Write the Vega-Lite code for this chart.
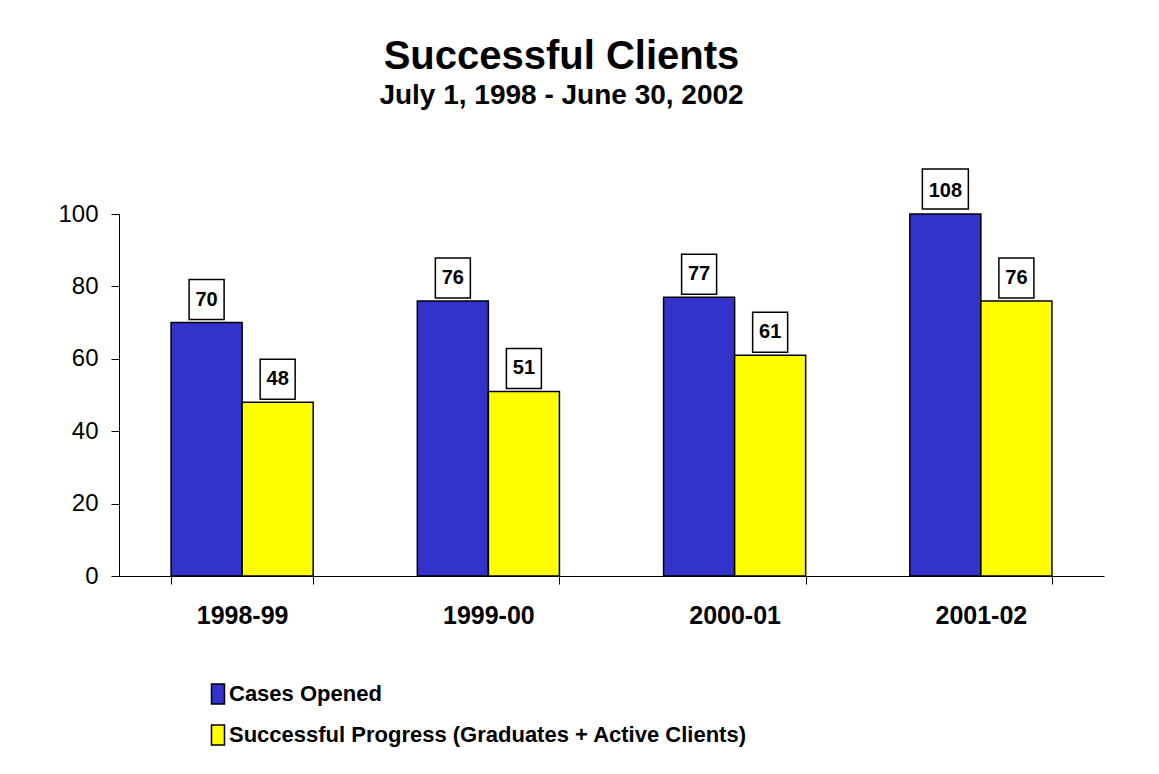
{
  "$schema": "https://vega.github.io/schema/vega-lite/v6.json",
  "width": 985,
  "height": 362,
  "autosize": {"type": "none"},
  "padding": {"left": 119, "top": 214, "right": 55, "bottom": 198},
  "background": "white",
  "title": {
    "text": "Successful Clients",
    "subtitle": "July 1, 1998 - June 30, 2002",
    "font": "Liberation Sans",
    "fontSize": 40,
    "fontWeight": "bold",
    "color": "black",
    "subtitleFont": "Liberation Sans",
    "subtitleFontSize": 28,
    "subtitleFontWeight": "bold",
    "subtitleColor": "black",
    "subtitlePadding": 5,
    "anchor": "middle",
    "frame": "group",
    "dx": -50,
    "offset": 56
  },
  "data": {
    "values": [
      {"year": "1998-99", "series": "Cases Opened", "value": 70},
      {"year": "1998-99", "series": "Successful Progress (Graduates + Active Clients)", "value": 48},
      {"year": "1999-00", "series": "Cases Opened", "value": 76},
      {"year": "1999-00", "series": "Successful Progress (Graduates + Active Clients)", "value": 51},
      {"year": "2000-01", "series": "Cases Opened", "value": 77},
      {"year": "2000-01", "series": "Successful Progress (Graduates + Active Clients)", "value": 61},
      {"year": "2001-02", "series": "Cases Opened", "value": 108},
      {"year": "2001-02", "series": "Successful Progress (Graduates + Active Clients)", "value": 76}
    ]
  },
  "encoding": {
    "x": {
      "field": "year",
      "type": "nominal",
      "sort": null,
      "scale": {"paddingInner": 0.423, "paddingOuter": 0.2115},
      "axis": {
        "title": null,
        "labelAngle": 0,
        "labelFont": "Liberation Sans",
        "labelFontSize": 25,
        "labelFontWeight": "bold",
        "labelColor": "black",
        "labelPadding": 19,
        "tickSize": 8,
        "tickBand": "extent",
        "tickColor": "black",
        "domainColor": "black",
        "grid": false
      }
    },
    "xOffset": {
      "field": "series",
      "type": "nominal",
      "sort": null,
      "scale": {"paddingInner": 0, "paddingOuter": 0}
    },
    "y": {
      "field": "value",
      "type": "quantitative",
      "scale": {"domain": [0, 100], "clamp": true, "nice": false},
      "axis": {
        "title": null,
        "values": [0, 20, 40, 60, 80, 100],
        "labelFont": "Liberation Sans",
        "labelFontSize": 24,
        "labelColor": "black",
        "labelPadding": 13,
        "tickSize": 8,
        "tickColor": "black",
        "domainColor": "black",
        "grid": false
      }
    }
  },
  "layer": [
    {
      "mark": {"type": "bar", "stroke": "black", "strokeWidth": 1.5},
      "encoding": {
        "color": {
          "field": "series",
          "type": "nominal",
          "sort": null,
          "scale": {
            "domain": ["Cases Opened", "Successful Progress (Graduates + Active Clients)"],
            "range": ["#3333CC", "#FFFF00"]
          },
          "legend": {
            "title": null,
            "orient": "none",
            "direction": "vertical",
            "legendX": 88,
            "legendY": 469,
            "symbolType": "M-0.65,-1H0.65V1H-0.65Z",
            "symbolSize": 400,
            "symbolStrokeColor": "black",
            "symbolStrokeWidth": 1.5,
            "symbolOpacity": 1,
            "labelFont": "Liberation Sans",
            "labelFontSize": 22,
            "labelFontWeight": "bold",
            "labelColor": "black",
            "labelLimit": 0,
            "labelOffset": 0,
            "rowPadding": 15
          }
        }
      }
    },
    {
      "transform": [{"filter": "datum.value < 100"}],
      "mark": {
        "type": "point",
        "shape": "M-0.875,-1H0.875V1H-0.875Z",
        "size": 1600,
        "filled": true,
        "fill": "white",
        "stroke": "black",
        "strokeWidth": 1.5,
        "opacity": 1,
        "yOffset": -23
      }
    },
    {
      "transform": [{"filter": "datum.value >= 100"}],
      "mark": {
        "type": "point",
        "shape": "M-1.15,-1H1.15V1H-1.15Z",
        "size": 1600,
        "filled": true,
        "fill": "white",
        "stroke": "black",
        "strokeWidth": 1.5,
        "opacity": 1,
        "yOffset": -25
      }
    },
    {
      "mark": {
        "type": "text",
        "font": "Liberation Sans",
        "fontSize": 20,
        "fontWeight": "bold",
        "color": "black",
        "baseline": "middle",
        "align": "center",
        "yOffset": -23
      },
      "encoding": {"text": {"field": "value", "type": "quantitative"}}
    }
  ],
  "config": {
    "view": {"stroke": null},
    "font": "Liberation Sans"
  }
}
